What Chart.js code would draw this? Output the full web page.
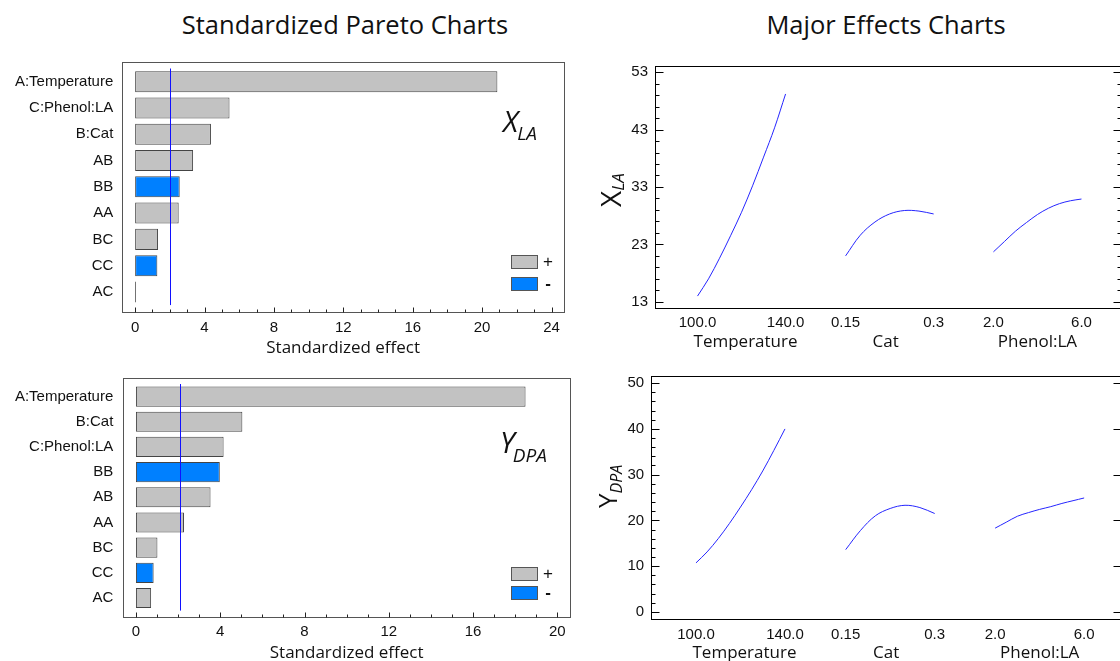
<!DOCTYPE html>
<html><head><meta charset="utf-8">
<script src="https://cdn.jsdelivr.net/npm/chart.js@4.4.1/dist/chart.umd.min.js"></script>
<style>
html,body{margin:0;padding:0;background:#fff;}
body{width:1120px;height:661px;overflow:hidden;position:relative;font-family:"Open Sans",sans-serif;}
.title{position:absolute;top:11.5px;font-size:25.5px;line-height:25.5px;color:#111;white-space:nowrap;transform:translateX(-50%);}
canvas{position:absolute;}
</style></head><body>
<div class="title" style="left:345px">Standardized Pareto Charts</div>
<div class="title" style="left:886px">Major Effects Charts</div>
<canvas id="p1" width="575" height="310" style="left:0;top:50px"></canvas>
<canvas id="p2" width="580" height="298" style="left:0;top:365px"></canvas>
<canvas id="e1" width="540" height="300" style="left:590px;top:50px"></canvas>
<canvas id="e2" width="540" height="303" style="left:590px;top:360px"></canvas>
<script>
// ---------- DATA ----------
const paretoLabelsX = ['A:Temperature','C:Phenol:LA','B:Cat','AB','BB','AA','BC','CC','AC'];
const paretoValsX   = [20.88, 5.44, 4.37, 3.34, 2.57, 2.51, 1.32, 1.28, 0.05];
const paretoSignX   = ['+','+','+','+','-','+','+','-','+'];
const paretoTicksX  = [0,4,8,12,16,20,24];
const critX = 2.03;

const paretoLabelsY = ['A:Temperature','B:Cat','C:Phenol:LA','BB','AB','AA','BC','CC','AC'];
const paretoValsY   = [18.49, 5.05, 4.16, 3.98, 3.54, 2.28, 1.02, 0.84, 0.72];
const paretoSignY   = ['+','+','+','-','+','+','+','-','+'];
const paretoTicksY  = [0,4,8,12,16,20];
const critY = 2.09;

const factorNames = ['Temperature','Cat','Phenol:LA'];
const factorTickValues = [[100,140],[0.15,0.3],[2.0,6.0]];
const factorTickLabels = ['100.0','140.0','0.15','0.3','2.0','6.0'];
const tempLevels   = [100,105,110,115,120,125,130,135,140];
const catLevels    = [0.15,0.175,0.2,0.225,0.25,0.275,0.3];
const phenolLevels = [2.0,2.5,3.0,3.5,4.0,4.5,5.0,5.5,6.0];

const xlaTemp   = [14.0,17.0,20.6,24.5,28.6,33.2,38.2,43.3,49.2];
const xlaCat    = [21.0,24.6,26.9,28.3,28.9,28.8,28.3];
const xlaPhenol = [21.7,23.5,25.3,26.8,28.2,29.3,30.1,30.6,30.9];
const xlaTicks  = [13,23,33,43,53];

const ydpaTemp   = [10.7,13.1,16.0,19.3,22.9,26.7,30.8,35.3,40.0];
const ydpaCat    = [13.6,17.8,21.0,22.6,23.3,22.8,21.5];
const ydpaPhenol = [18.3,19.6,20.9,21.7,22.4,23.0,23.7,24.3,24.9];
const ydpaTicks  = [0,10,20,30,40,50];

// ---------- STYLE / LAYOUT ----------
const GRAY = '#c2c2c2', BLUE = '#0080ff', EDGE = '#444444';
const TXT = '#111111';
const NUMFONT = '"Liberation Sans", Arial, sans-serif';
const SEGFONT = '"Open Sans", "Noto Sans", sans-serif';
const SEG = [0, 1.682, 3.361];
const NAME_DX = [4, -4, 0];

function line(ctx, x1, y1, x2, y2) { ctx.beginPath(); ctx.moveTo(x1, y1); ctx.lineTo(x2, y2); ctx.stroke(); }
function subText(ctx, x, y, rot, main, sub, fMain, fSub, dy, gap) {
  ctx.save(); ctx.translate(x, y); ctx.rotate(rot);
  ctx.fillStyle = TXT; ctx.textBaseline = 'alphabetic'; ctx.textAlign = 'left';
  ctx.font = fMain; ctx.fillText(main, 0, 0);
  const w = ctx.measureText(main).width;
  ctx.font = fSub; ctx.fillText(sub, w + gap, dy);
  ctx.restore();
}

const paretoDeco = {
  id: 'paretoDeco',
  afterDraw(chart, args, o) {
    const ctx = chart.ctx, a = chart.chartArea, x = chart.scales.x;
    ctx.save();
    const top = a.top - o.ext, bot = a.bottom + o.ext;
    ctx.strokeStyle = '#555'; ctx.lineWidth = 1;
    const L = Math.round(a.left) + 0.5, R = Math.round(a.right) + 0.5, T = Math.round(top) + 0.5, B = Math.round(bot) + 0.5;
    ctx.strokeRect(L, T, R - L, B - T);
    ctx.strokeStyle = '#222';
    const last = o.ticks[o.ticks.length - 1];
    for (let v = 0; v <= last; v++) {
      const px = Math.round(x.getPixelForValue(v)) + 0.5;
      line(ctx, px, B, px, B - (o.ticks.includes(v) ? 5 : 3));
    }
    ctx.strokeStyle = '#1010ff';
    const cx = Math.round(x.getPixelForValue(o.crit)) + 0.5;
    line(ctx, cx, a.top, cx, a.bottom);
    // legend
    const lg = o.legend;
    [[GRAY, '+', lg.y1, ''], [BLUE, '-', lg.y2, 'bold ']].forEach(([c, t, yy, w]) => {
      ctx.fillStyle = c; ctx.fillRect(lg.x, yy, 26, 13);
      ctx.strokeStyle = '#555'; ctx.strokeRect(lg.x + 0.5, yy + 0.5, 26, 13);
      ctx.fillStyle = TXT; ctx.font = w + '17px ' + NUMFONT; ctx.textAlign = 'center'; ctx.textBaseline = 'middle';
      ctx.fillText(t, lg.x + 37, yy + 7);
    });
    const an = o.anno;
    subText(ctx, an.x, an.y, 0, an.main, an.sub, 'italic ' + an.fm + 'px ' + SEGFONT, 'italic ' + an.fs + 'px ' + SEGFONT, an.dy, an.gap);
    ctx.restore();
  }
};

const effectDeco = {
  id: 'effectDeco',
  afterDraw(chart, args, o) {
    const ctx = chart.ctx, a = chart.chartArea, x = chart.scales.x, y = chart.scales.y;
    ctx.save();
    ctx.strokeStyle = '#000'; ctx.lineWidth = 1;
    const L = Math.round(a.left) + 0.5, R = Math.round(a.right) + 0.5, T = Math.round(a.top) + 0.5, B = Math.round(a.bottom) + 0.5;
    ctx.strokeRect(L, T, R - L, B - T);
    const t0 = o.ticks[0], t1 = o.ticks[o.ticks.length - 1];
    for (let v = t0; v <= t1 + 1e-9; v += 2) {
      const major = o.ticks.includes(v);
      const py = Math.round(y.getPixelForValue(v)) + 0.5;
      line(ctx, L, py, L + (major ? 8 : 4), py);
      if (major || o.rightMinor) line(ctx, R, py, R - (major ? 8 : 4), py);
    }
    ctx.fillStyle = TXT; ctx.font = '17px ' + SEGFONT; ctx.textAlign = 'center'; ctx.textBaseline = 'middle';
    factorNames.forEach((n, i) => ctx.fillText(n, x.getPixelForValue(SEG[i] + 0.5) + NAME_DX[i], o.nameY));
    subText(ctx, o.tx, o.ty, -Math.PI / 2, o.main, o.sub, o.fm + 'px ' + SEGFONT, 'italic ' + o.fs + 'px ' + SEGFONT, o.dy, o.gap);
    ctx.restore();
  }
};

function pareto(id, labels, vals, signs, ticks, crit, L) {
  new Chart(document.getElementById(id), {
    type: 'bar',
    data: { labels: labels, datasets: [{
      data: vals, backgroundColor: signs.map(s => s === '+' ? GRAY : BLUE),
      borderColor: EDGE, borderWidth: 1, borderSkipped: false,
      categoryPercentage: 0.8, barPercentage: 1
    }]},
    options: {
      indexAxis: 'y', responsive: false, animation: false, devicePixelRatio: 1,
      layout: { padding: { top: L.padTop, right: L.padRight, left: 0, bottom: 0 } },
      plugins: { legend: { display: false }, tooltip: { enabled: false },
        paretoDeco: { ext: L.ext, ticks: ticks, crit: crit, legend: L.legend, anno: L.anno } },
      scales: {
        x: { type: 'linear', min: L.min, max: L.max,
          afterBuildTicks: s => { s.ticks = ticks.map(v => ({ value: v })); },
          grid: { display: false, drawTicks: false }, border: { display: false },
          ticks: { padding: L.tickPad, autoSkip: false, maxRotation: 0, color: TXT, font: { family: NUMFONT, size: 15 } },
          title: { display: true, text: 'Standardized effect', color: TXT, font: { family: SEGFONT, size: 17 }, padding: { top: 0, bottom: L.titlePad } },
          afterFit: s => { s.height = L.xh; } },
        y: { grid: { display: false, drawTicks: false }, border: { display: false },
          ticks: { padding: L.labPad, autoSkip: false, color: TXT, font: { family: NUMFONT, size: 15 } },
          afterFit: s => { s.width = L.yw; } }
      }
    },
    plugins: [paretoDeco]
  });
}

pareto('p1', paretoLabelsX, paretoValsX, paretoSignX, paretoTicksX, critX, {
  padTop: 18.5, padRight: 11, min: -0.74, max: 24.72, ext: 7, tickPad: 14, titlePad: 1.5, xh: 54.9, yw: 122.3, labPad: 9,
  legend: { x: 511, y1: 205, y2: 227 },
  anno: { x: 503, y: 82, main: 'X', sub: 'LA', fm: 29, fs: 19, dy: 8, gap: -1 }
});
pareto('p2', paretoLabelsY, paretoValsY, paretoSignY, paretoTicksY, critY, {
  padTop: 14.9, padRight: 10, min: -0.6, max: 20.6, ext: 6.5, tickPad: 12, titlePad: 0, xh: 52.4, yw: 123.3, labPad: 10,
  legend: { x: 511, y1: 202, y2: 221 },
  anno: { x: 500, y: 88, main: 'Y', sub: 'DPA', fm: 29, fs: 19, dy: 9, gap: -2 }
});

function toVirtual(i, v) {
  const [a, b] = factorTickValues[i];
  return SEG[i] + (v - a) / (b - a);
}
function effects(id, series, yTicks, L) {
  const levels = [tempLevels, catLevels, phenolLevels];
  const datasets = series.map((vals, i) => ({
    data: levels[i].map((v, k) => ({ x: toVirtual(i, v), y: vals[k] })),
    borderColor: '#2525ff', borderWidth: 1, pointRadius: 0, tension: 0.35, fill: false
  }));
  const xTicks = [];
  factorTickValues.forEach((pair, i) => pair.forEach(v => xTicks.push(toVirtual(i, v))));
  new Chart(document.getElementById(id), {
    type: 'line',
    data: { datasets: datasets },
    options: {
      responsive: false, animation: false, devicePixelRatio: 1,
      layout: { padding: { top: L.padTop, right: L.padRight, left: 0, bottom: 0 } },
      plugins: { legend: { display: false }, tooltip: { enabled: false },
        effectDeco: { ticks: yTicks, rightMinor: L.rightMinor, nameY: L.nameY, tx: L.tx, ty: L.ty, main: L.main, sub: L.sub, fm: L.fm, fs: L.fs, dy: L.dy, gap: L.gap } },
      scales: {
        x: { type: 'linear', min: L.xmin, max: L.xmax,
          afterBuildTicks: s => { s.ticks = xTicks.map(v => ({ value: v })); },
          grid: { display: false, drawTicks: false }, border: { display: false },
          ticks: { padding: L.xPad, autoSkip: false, maxRotation: 0, color: TXT, font: { family: NUMFONT, size: 15 },
            callback: (v, i) => factorTickLabels[i] },
          afterFit: s => { s.height = L.xh; } },
        y: { type: 'linear', min: L.ymin, max: L.ymax,
          afterBuildTicks: s => { s.ticks = yTicks.map(v => ({ value: v })); },
          grid: { display: false, drawTicks: false }, border: { display: false },
          ticks: { padding: L.yPad, color: TXT, font: { family: NUMFONT, size: 15 } },
          afterFit: s => { s.width = L.yw; } }
      }
    },
    plugins: [effectDeco]
  });
}

effects('e1', [xlaTemp, xlaCat, xlaPhenol], xlaTicks, {
  padTop: 11.7, padRight: 9, xmin: -0.483, xmax: 4.81, ymin: 11.87, ymax: 54.07, xh: 41.7, yw: 65, xPad: 6, yPad: 7,
  rightMinor: true, nameY: 291.7, tx: 31, ty: 157, main: 'X', sub: 'LA', fm: 28, fs: 17, dy: 3, gap: 0
});
effects('e2', [ydpaTemp, ydpaCat, ydpaPhenol], ydpaTicks, {
  padTop: 11.7, padRight: 9, xmin: -0.503, xmax: 4.775, ymin: -1.57, ymax: 51.57, xh: 44, yw: 61.2, xPad: 7, yPad: 7,
  rightMinor: false, nameY: 293, tx: 27, ty: 148, main: 'Y', sub: 'DPA', fm: 26, fs: 16, dy: 5, gap: 0
});
</script>
</body></html>
